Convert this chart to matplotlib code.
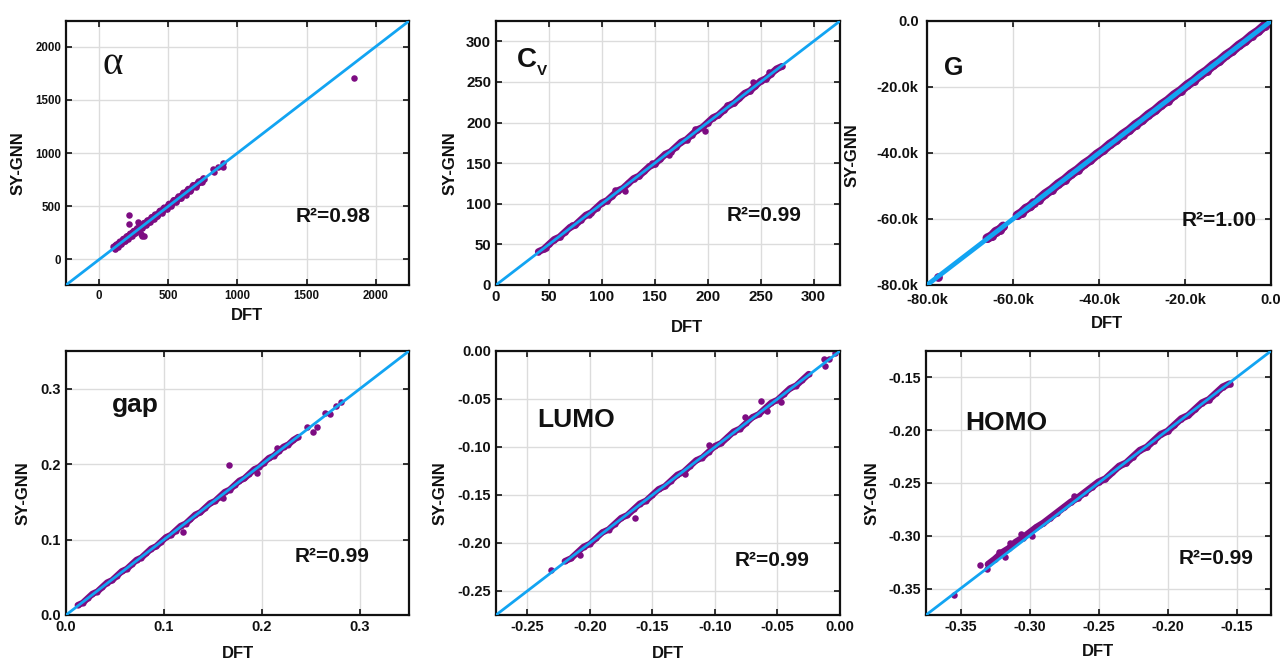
import matplotlib
matplotlib.use("Agg")
import matplotlib.pyplot as plt
import numpy as np
from matplotlib.ticker import FuncFormatter, FixedLocator

plt.rcParams['font.family'] = ['Liberation Sans', 'DejaVu Sans']
plt.rcParams['font.weight'] = 'bold'

W, H = 1283, 662
PURPLE = '#7d0c82'
BLUE = '#12a4f2'
nan = np.nan

# ---------------- alpha ----------------
alpha_dft = [105, 115, 125, 135, 150, 160, 175, 185, 200, 210,
             225, 235, 250, 260, 275, 285, 300, 310, 325, 340,
             350, 365, 380, 395, 405, 420, 440, 455, 470, 490,
             505, 520, 540, 555, 575, 590, 610, 625, 645, 660,
             680, 700, 720, 740, 755]
alpha_pred = [118, 100, 138, 120, 165, 145, 190, 170, 215, 195,
              240, 220, 265, 245, 290, 270, 315, 295, 340, 325,
              365, 350, 395, 380, 420, 405, 455, 440, 485, 475,
              520, 505, 555, 540, 590, 575, 625, 610, 660, 645,
              695, 685, 730, 725, 760]
alpha_out_dft = [217, 217, 282, 290, 307, 323, 300, 825, 830, 861, 893, 897, 1845]
alpha_out_pred = [415, 336, 350, 330, 220, 222, 235, 850, 826, 865, 907, 870, 1709]

# ---------------- Cv ----------------
cv_dft = [40, 45, 50, 55, 60, 65, 70, 75, 80, 85,
          90, 95, 100, 105, 110, 115, 120, 125, 130, 135,
          140, 145, 150, 155, 160, 165, 170, 175, 180, 185,
          190, 195, 200, 205, 210, 215, 220, 225, 230, 235,
          240, 245, 250, 255, 260, 265, 270]
cv_pred = [41, 44, 50, 56, 59, 65, 71, 74, 80, 86,
           89, 95, 101, 104, 110, 116, 119, 125, 131, 134,
           140, 146, 149, 155, 161, 164, 170, 176, 179, 185,
           191, 194, 200, 206, 209, 215, 221, 224, 230, 236,
           239, 245, 251, 254, 260, 266, 269]
cv_out_dft = [47, 72, 88, 112, 122, 147, 163, 188, 197, 218, 243, 258]
cv_out_pred = [45, 74, 86, 117, 116, 150, 160, 192, 189, 221, 250, 262]

# ---------------- G (thousands), nan splits the clusters ----------------
g_dft = [-66.0, -65.0, -64.0, -63.0, -62.3, nan,
         -59.0, -58.0, -57.0, -56.0, -55.2, nan,
         -54.0, -52.5, -51.0, -49.5, -48.0, -46.5, -45.0, -43.5, -42.0, -40.5,
         -39.0, -37.5, -36.0, -34.5, -33.0, -31.5, -30.0, -28.5, -27.0, -25.5,
         -24.0, -22.5, -21.0, -19.5, -18.0, -16.5, -15.0, -13.5, -12.0, -10.5,
         -9.0, -7.5, -6.0, -4.5, -3.0, -1.5, -0.3]
g_pred = [-65.8, -65.2, -63.8, -63.2, -62.2, nan,
          -58.9, -58.1, -56.8, -56.2, -55.1, nan,
          -54.1, -52.4, -51.1, -49.4, -48.1, -46.4, -45.1, -43.4, -42.1, -40.4,
          -39.1, -37.4, -36.1, -34.4, -33.1, -31.4, -30.1, -28.4, -27.1, -25.4,
          -24.1, -22.4, -21.1, -19.4, -18.1, -16.4, -15.1, -13.4, -12.1, -10.4,
          -9.1, -7.4, -6.1, -4.4, -3.1, -1.4, -0.4]
g_out_dft = [-77.5]
g_out_pred = [-77.6]

# ---------------- gap ----------------
gap_dft = [0.012, 0.017, 0.022, 0.027, 0.032, 0.037, 0.042, 0.047, 0.052, 0.057,
           0.062, 0.067, 0.072, 0.077, 0.082, 0.087, 0.092, 0.097, 0.102, 0.107,
           0.112, 0.117, 0.122, 0.127, 0.132, 0.137, 0.142, 0.147, 0.152, 0.157,
           0.162, 0.167, 0.172, 0.177, 0.182, 0.187, 0.192, 0.197, 0.202, 0.207,
           0.212, 0.217, 0.222, 0.227, 0.232, 0.237]
gap_pred = [0.013, 0.016, 0.022, 0.028, 0.031, 0.037, 0.043, 0.046, 0.052, 0.058,
            0.061, 0.067, 0.073, 0.076, 0.082, 0.088, 0.091, 0.097, 0.103, 0.106,
            0.112, 0.118, 0.121, 0.127, 0.133, 0.136, 0.142, 0.148, 0.151, 0.157,
            0.163, 0.166, 0.172, 0.178, 0.181, 0.187, 0.193, 0.196, 0.202, 0.208,
            0.211, 0.217, 0.223, 0.226, 0.232, 0.236]
gap_out_dft = [0.246, 0.252, 0.256, 0.264, 0.269, 0.275, 0.281, 0.166, 0.119, 0.160, 0.195, 0.215]
gap_out_pred = [0.249, 0.243, 0.249, 0.268, 0.266, 0.277, 0.283, 0.199, 0.110, 0.155, 0.188, 0.221]

# ---------------- LUMO ----------------
lumo_dft = [-0.220, -0.215, -0.210, -0.205, -0.200, -0.195, -0.190, -0.185, -0.180, -0.175,
            -0.170, -0.165, -0.160, -0.155, -0.150, -0.145, -0.140, -0.135, -0.130, -0.125,
            -0.120, -0.115, -0.110, -0.105, -0.100, -0.095, -0.090, -0.085, -0.080, -0.075,
            -0.070, -0.065, -0.060, -0.055, -0.050, -0.045, -0.040, -0.035, -0.030, -0.025]
lumo_pred = [-0.219, -0.216, -0.210, -0.204, -0.201, -0.195, -0.189, -0.186, -0.180, -0.174,
             -0.171, -0.165, -0.159, -0.156, -0.150, -0.144, -0.141, -0.135, -0.129, -0.126,
             -0.120, -0.114, -0.111, -0.105, -0.099, -0.096, -0.090, -0.084, -0.081, -0.075,
             -0.069, -0.066, -0.060, -0.054, -0.051, -0.045, -0.039, -0.036, -0.030, -0.024]
lumo_out_dft = [-0.231, -0.164, -0.063, -0.013, -0.012, -0.009, -0.004, -0.105, -0.076, -0.047,
                -0.208, -0.124, -0.058]
lumo_out_pred = [-0.228, -0.174, -0.052, -0.008, -0.016, -0.008, -0.002, -0.098, -0.069, -0.053,
                 -0.212, -0.128, -0.062]

# ---------------- HOMO ----------------
homo_dft = [-0.330, -0.325, -0.320, -0.315, -0.310, -0.305, -0.300, -0.295, -0.290, -0.285,
            -0.280, -0.275, -0.270, -0.265, -0.260, -0.255, -0.250, -0.245, -0.240, -0.235,
            -0.230, -0.225, -0.220, -0.215, -0.210, -0.205, -0.200, -0.195, -0.190, -0.185,
            -0.180, -0.175, -0.170, -0.165, -0.160, -0.155]
homo_pred = [-0.327, -0.322, -0.316, -0.312, -0.306, -0.302, -0.297, -0.292, -0.288, -0.283,
             -0.278, -0.273, -0.268, -0.264, -0.259, -0.254, -0.249, -0.246, -0.240, -0.234,
             -0.231, -0.225, -0.219, -0.216, -0.210, -0.204, -0.201, -0.195, -0.189, -0.186,
             -0.180, -0.174, -0.171, -0.165, -0.159, -0.156]
homo_out_dft = [-0.355, -0.336, -0.331, -0.322, -0.314, -0.306, -0.268, -0.318, -0.298]
homo_out_pred = [-0.356, -0.328, -0.331, -0.315, -0.307, -0.298, -0.262, -0.320, -0.300]


def px(x, y):
    return x / W, 1 - y / H


def make_axes(fig, left, right, top, bottom):
    return fig.add_axes([left / W, 1 - bottom / H, (right - left) / W, (bottom - top) / H])


def style(ax, lim, ticks, fmt, fsize, lw, pad=3.5):
    ax.set_xlim(lim)
    ax.set_ylim(lim)
    ax.xaxis.set_major_locator(FixedLocator(ticks))
    ax.yaxis.set_major_locator(FixedLocator(ticks))
    ax.xaxis.set_major_formatter(FuncFormatter(fmt))
    ax.yaxis.set_major_formatter(FuncFormatter(fmt))
    ax.grid(True, color='#dcdcdc', lw=1.0, zorder=0)
    ax.set_axisbelow(True)
    ax.tick_params(direction='in', top=True, right=True, length=4, width=1.2,
                   labelsize=fsize, colors='#111111', pad=pad)
    for lab in ax.get_xticklabels() + ax.get_yticklabels():
        lab.set_fontweight('bold')
    for sp in ax.spines.values():
        sp.set_linewidth(1.6)
        sp.set_color('#111111')
    # y = x reference line
    ax.plot(lim, lim, color=BLUE, lw=lw, zorder=3, solid_capstyle='butt')


def points(ax, bx, by, ox, oy, band_lw, s_out=22):
    # dense cloud along the diagonal, then the scattered outliers
    ax.plot(bx, by, color=PURPLE, lw=band_lw, solid_joinstyle='round',
            solid_capstyle='round', zorder=2)
    ax.scatter(bx, by, s=band_lw ** 2 * 0.9, color=PURPLE, lw=0, zorder=2)
    ax.scatter(ox, oy, s=s_out, color=PURPLE, lw=0, zorder=2)


fig = plt.figure(figsize=(W / 100, H / 100), dpi=100)

# alpha
ax = make_axes(fig, 66, 409, 21, 285)
points(ax, alpha_dft, alpha_pred, alpha_out_dft, alpha_out_pred, 5.0)
style(ax, (-240, 2240), [0, 500, 1000, 1500, 2000], lambda v, p: f"{v:.0f}", 8.3, 2.0)

# Cv
ax = make_axes(fig, 496, 840, 21, 285)
points(ax, cv_dft, cv_pred, cv_out_dft, cv_out_pred, 5.0)
style(ax, (0, 325), [0, 50, 100, 150, 200, 250, 300], lambda v, p: f"{v:.0f}", 10.8, 2.0)

# G
ax = make_axes(fig, 927, 1271, 21, 285)
points(ax, g_dft, g_pred, g_out_dft, g_out_pred, 6.8, 40)
style(ax, (-80, 0), [-80, -60, -40, -20, 0],
      lambda v, p: "0.0" if abs(v) < 1e-9 else f"{v:.1f}k", 10.5, 3.4, pad=6)

# gap
ax = make_axes(fig, 66, 409, 351, 615)
points(ax, gap_dft, gap_pred, gap_out_dft, gap_out_pred, 4.6)
style(ax, (0, 0.35), [0, 0.1, 0.2, 0.3], lambda v, p: f"{v:.1f}", 10.5, 2.0)

# LUMO
ax = make_axes(fig, 496, 840, 351, 615)
points(ax, lumo_dft, lumo_pred, lumo_out_dft, lumo_out_pred, 4.6)
style(ax, (-0.275, 0), [-0.25, -0.2, -0.15, -0.1, -0.05, 0],
      lambda v, p: f"{v:.2f}" if abs(v) > 1e-9 else "0.00", 10.5, 2.0)

# HOMO
ax = make_axes(fig, 926, 1271, 351, 615)
points(ax, homo_dft, homo_pred, homo_out_dft, homo_out_pred, 5.0)
style(ax, (-0.375, -0.125), [-0.35, -0.3, -0.25, -0.2, -0.15],
      lambda v, p: f"{v:.2f}", 10.3, 2.0)

# axis titles
for x, y in [(18, 163), (450, 163), (852, 155), (23, 493), (440, 493), (872, 493)]:
    fig.text(*px(x, y), "SY-GNN", rotation=90, ha='center', va='center',
             fontsize=12, fontweight='bold', color='#111111')
for x, y in [(247, 315), (687, 328), (1107, 323), (238, 653), (668, 653), (1098, 652)]:
    fig.text(*px(x, y), "DFT", ha='center', va='center',
             fontsize=12, fontweight='bold', color='#111111')

# property names
fig.text(*px(113, 64), "\u03b1", ha='center', va='center', fontsize=28,
         family='Liberation Serif', fontweight='normal', color='#111111')
fig.text(*px(527, 60), "C", ha='center', va='center', fontsize=20,
         fontweight='bold', color='#111111')
fig.text(*px(542, 71), "V", ha='center', va='center', fontsize=11,
         fontweight='bold', color='#111111')
fig.text(*px(954, 68), "G", ha='center', va='center', fontsize=18,
         fontweight='bold', color='#111111')
fig.text(*px(135, 405), "gap", ha='center', va='center', fontsize=19,
         fontweight='bold', color='#111111')
fig.text(*px(576, 420), "LUMO", ha='center', va='center', fontsize=19,
         fontweight='bold', color='#111111')
fig.text(*px(1006, 423), "HOMO", ha='center', va='center', fontsize=19,
         fontweight='bold', color='#111111')

# R^2 labels
for (x, y), r2 in zip([(333, 217), (764, 216), (1219, 220), (332, 557), (772, 560), (1216, 559)],
                      ["0.98", "0.99", "1.00", "0.99", "0.99", "0.99"]):
    fig.text(*px(x, y), f"R\u00b2={r2}", ha='center', va='center', fontsize=15,
             fontweight='bold', color='#111111')

fig.savefig("out.png", dpi=100)
